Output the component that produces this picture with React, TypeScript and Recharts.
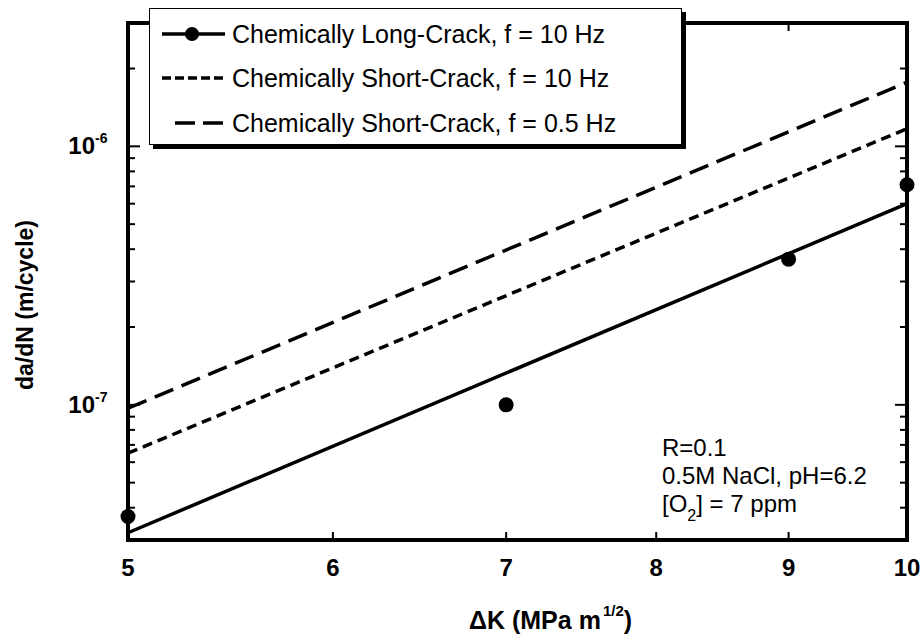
import * as React from 'react';
import {
  ComposedChart,
  Line,
  Scatter,
  XAxis,
  YAxis,
  ReferenceArea,
  Customized,
} from 'recharts';

// values
const xTicks = [5, 6, 7, 8, 9, 10];
const yMajorTicks = [1e-7, 1e-6];
const yMajorExponents = ['-7', '-6'];
const yMinorTicks = [
  4e-8, 5e-8, 6e-8, 7e-8, 8e-8, 9e-8,
  2e-7, 3e-7, 4e-7, 5e-7, 6e-7, 7e-7, 8e-7, 9e-7,
  2e-6,
];

const seriesNames = [
  'Chemically Long-Crack, f = 10 Hz',
  'Chemically Short-Crack, f = 10 Hz',
  'Chemically Short-Crack, f = 0.5 Hz',
];

const longCrackPoints = [
  { x: 5, y: 3.7e-8 },
  { x: 7, y: 1.0e-7 },
  { x: 9, y: 3.66e-7 },
  { x: 10, y: 7.1e-7 },
];
const longCrackFit = [
  { x: 5, y: 3.2e-8 },
  { x: 10, y: 6.0e-7 },
];
const shortCrack10Hz = [
  { x: 5, y: 6.5e-8 },
  { x: 10, y: 1.17e-6 },
];
const shortCrack05Hz = [
  { x: 5, y: 9.7e-8 },
  { x: 10, y: 1.77e-6 },
];

const notes = ['R=0.1', '0.5M NaCl, pH=6.2'];

const FONT = '"Liberation Sans", Arial, Helvetica, sans-serif';
const W = 922;
const H = 634;
const PL = 128;
const PR = 907;
const PT = 23;
const PB = 540;

const YTick = (props: any) => {
  const { y, payload } = props;
  const idx = yMajorTicks.indexOf(payload.value);
  const len = idx >= 0 ? 12 : 7;
  return (
    <g>
      <line x1={PL} x2={PL + len} y1={y} y2={y} stroke="#000" strokeWidth={2} />
      <line x1={PR - len} x2={PR} y1={y} y2={y} stroke="#000" strokeWidth={2} />
      {idx >= 0 && (
        <text x={95} y={y + 8} textAnchor="end" fontFamily={FONT} fontWeight="bold" fontSize={24} fill="#000">
          10
          <tspan x={95} dy={-11} textAnchor="start" fontSize={14}>{yMajorExponents[idx]}</tspan>
        </text>
      )}
    </g>
  );
};

const XTick = (props: any) => {
  const { x, payload } = props;
  const edge = payload.value === xTicks[0] || payload.value === xTicks[xTicks.length - 1];
  return (
    <g>
      {!edge && (
        <>
          <line x1={x} x2={x} y1={PB - 8} y2={PB} stroke="#000" strokeWidth={2} />
          <line x1={x} x2={x} y1={PT} y2={PT + 8} stroke="#000" strokeWidth={2} />
        </>
      )}
      <text x={x} y={576} textAnchor="middle" fontFamily={FONT} fontWeight="bold" fontSize={24} fill="#000">
        {payload.value}
      </text>
    </g>
  );
};

const Annotations = () => (
  <g fontFamily={FONT} fill="#000">
    <text
      x={33}
      y={305}
      transform="rotate(-90 33 305)"
      textAnchor="middle"
      fontWeight="bold"
      fontSize={23}
    >
      da/dN (m/cycle)
    </text>
    <text x={469} y={629} fontWeight="bold" fontSize={25}>
      ΔK (MPa m
      <tspan dx={2} dy={-13} fontSize={15}>1/2</tspan>
      <tspan dy={13}>)</tspan>
    </text>
    <text x={662} y={456} fontSize={24}>{notes[0]}</text>
    <text x={662} y={484} fontSize={24}>{notes[1]}</text>
    <text x={662} y={512} fontSize={24}>
      [O
      <tspan dy={9} fontSize={16}>2</tspan>
      <tspan dy={-9}>] = 7 ppm</tspan>
    </text>
  </g>
);

function LegendBox() {
  const rows = [25, 69, 114];
  return (
    <div
      style={{
        position: 'absolute',
        left: 149,
        top: 8,
        width: 533,
        height: 137,
        boxSizing: 'border-box',
        border: '1.5px solid #000',
        background: '#fff',
        boxShadow: '4px 4px 0 #000',
      }}
    >
      <svg width={530} height={134} style={{ display: 'block' }}>
        <line x1={12} x2={75} y1={rows[0]} y2={rows[0]} stroke="#000" strokeWidth={3.5} />
        <circle cx={42} cy={rows[0]} r={7} fill="#000" />
        <line x1={12} x2={75} y1={rows[1]} y2={rows[1]} stroke="#000" strokeWidth={3.5} strokeDasharray="9 4" />
        <line x1={25} x2={73} y1={rows[2]} y2={rows[2]} stroke="#000" strokeWidth={3.5} strokeDasharray="20 8" />
        {seriesNames.map((name, i) => (
          <text key={name} x={82} y={rows[i] + 9} fontFamily={FONT} fontSize={25} fill="#000">
            {name}
          </text>
        ))}
      </svg>
    </div>
  );
}

export default function App() {
  const allYTicks = [...yMinorTicks, ...yMajorTicks].sort((a, b) => a - b);
  return (
    <div style={{ position: 'absolute', left: 0, top: 0, width: W, height: H, background: '#fff' }}>
      <ComposedChart width={W} height={H} margin={{ top: PT, right: W - PR, left: 0, bottom: 0 }}>
        <XAxis
          type="number"
          dataKey="x"
          scale="log"
          domain={[5, 10]}
          ticks={xTicks}
          interval={0}
          axisLine={false}
          tickLine={false}
          tick={XTick}
          height={H - PB}
        />
        <YAxis
          type="number"
          dataKey="y"
          scale="log"
          domain={[3e-8, 3e-6]}
          ticks={allYTicks}
          interval={0}
          axisLine={false}
          tickLine={false}
          tick={YTick}
          width={PL}
        />
        <ReferenceArea x1={5} x2={10} y1={3e-8} y2={3e-6} fill="none" stroke="#000" strokeWidth={4} />
        <Line
          data={shortCrack05Hz}
          dataKey="y"
          type="linear"
          stroke="#000"
          strokeWidth={3.5}
          strokeDasharray="20 9"
          dot={false}
          isAnimationActive={false}
        />
        <Line
          data={shortCrack10Hz}
          dataKey="y"
          type="linear"
          stroke="#000"
          strokeWidth={3.5}
          strokeDasharray="10 6"
          dot={false}
          isAnimationActive={false}
        />
        <Line
          data={longCrackFit}
          dataKey="y"
          type="linear"
          stroke="#000"
          strokeWidth={3.5}
          dot={false}
          isAnimationActive={false}
        />
        <Scatter
          data={longCrackPoints}
          dataKey="y"
          fill="#000"
          shape={(p: any) => <circle cx={p.cx} cy={p.cy} r={7.5} fill="#000" />}
          isAnimationActive={false}
        />
        <Customized component={Annotations} />
      </ComposedChart>
      <LegendBox />
    </div>
  );
}
